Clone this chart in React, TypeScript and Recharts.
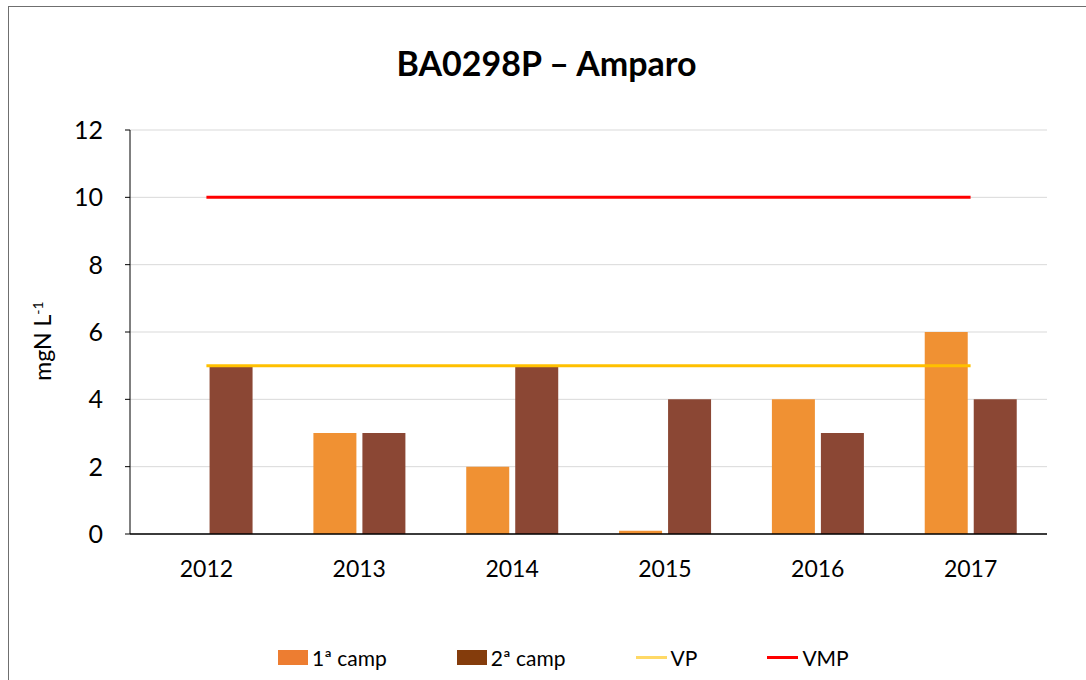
import React from 'react';
import { Bar, CartesianGrid, ComposedChart, Line, XAxis, YAxis } from 'recharts';

const years = ['2012', '2013', '2014', '2015', '2016', '2017'];
const camp1 = [0, 3, 2, 0.1, 4, 6];
const camp2 = [5, 3, 5, 4, 3, 4];
const vp = [5, 5, 5, 5, 5, 5];
const vmp = [10, 10, 10, 10, 10, 10];
const yTicks = [0, 2, 4, 6, 8, 10, 12];

const data = years.map((year, i) => ({ year, camp1: camp1[i], camp2: camp2[i], vp: vp[i], vmp: vmp[i] }));

const FONT = 'Lato, "Open Sans", sans-serif';

const legendItems = [
  { label: '1ª camp', color: '#ED7D31', kind: 'box' },
  { label: '2ª camp', color: '#843C0C', kind: 'box' },
  { label: 'VP', color: '#FFD966', kind: 'line' },
  { label: 'VMP', color: '#FF0000', kind: 'line' },
];

const YLabel = () => (
  <text x={51} y={341} transform="rotate(-90 51 341)" textAnchor="middle" fontSize={23} fontFamily={FONT} fill="#000">
    mgN L<tspan baselineShift="super" fontSize={14}>-1</tspan>
  </text>
);

const App: React.FC = () => {
  return (
    <div style={{ position: 'fixed', left: 0, top: 0, width: 1086, height: 680, overflow: 'hidden', background: '#fff' }}>
      <div style={{ position: 'absolute', left: 8, top: 6, width: 1120, height: 700, border: '1px solid #6f6f6f' }} />
      <div
        style={{
          position: 'absolute', left: 0, top: 42, width: 1093, textAlign: 'center',
          fontFamily: FONT, fontWeight: 700, fontSize: 34, color: '#000',
        }}
      >
        BA0298P – Amparo
      </div>
      <div style={{ position: 'absolute', left: 0, top: 0 }}>
        <ComposedChart
          width={1086}
          height={680}
          data={data}
          margin={{ top: 130, right: 39, bottom: 116, left: 70 }}
          barCategoryGap="20%"
          barGap={6}
        >
          <CartesianGrid vertical={false} stroke="#d9d9d9" strokeWidth={1} />
          <XAxis
            dataKey="year"
            height={30}
            tickLine={false}
            tickSize={0}
            tickMargin={27}
            axisLine={{ stroke: '#000', strokeWidth: 1.5 }}
            tick={{ fontSize: 23, fontFamily: FONT, fill: '#000' }}
          />
          <YAxis
            width={60}
            domain={[0, 12]}
            ticks={yTicks}
            interval={0}
            tickSize={5}
            tickMargin={22}
            axisLine={{ stroke: '#000', strokeWidth: 1 }}
            tickLine={{ stroke: '#000' }}
            tick={{ fontSize: 25, fontFamily: FONT, fill: '#000' }}
            label={<YLabel />}
          />
          <Bar dataKey="camp1" fill="#F09133" isAnimationActive={false} />
          <Bar dataKey="camp2" fill="#8B4734" isAnimationActive={false} />
          <Line dataKey="vp" stroke="#FFC000" strokeWidth={3} dot={false} activeDot={false} isAnimationActive={false} />
          <Line dataKey="vmp" stroke="#FF0000" strokeWidth={3} dot={false} activeDot={false} isAnimationActive={false} />
        </ComposedChart>
      </div>
      <div
        style={{
          position: 'absolute', left: 278, top: 645, display: 'flex', alignItems: 'center', gap: 70,
          fontFamily: FONT, fontSize: 21, color: '#000',
        }}
      >
        {legendItems.map((item) => (
          <div key={item.label} style={{ display: 'flex', alignItems: 'center' }}>
            {item.kind === 'box' ? (
              <div style={{ width: 30, height: 15, background: item.color, marginRight: 4 }} />
            ) : (
              <div style={{ width: 31, height: 3, background: item.color, marginRight: 4 }} />
            )}
            <span>{item.label}</span>
          </div>
        ))}
      </div>
    </div>
  );
};

export default App;
